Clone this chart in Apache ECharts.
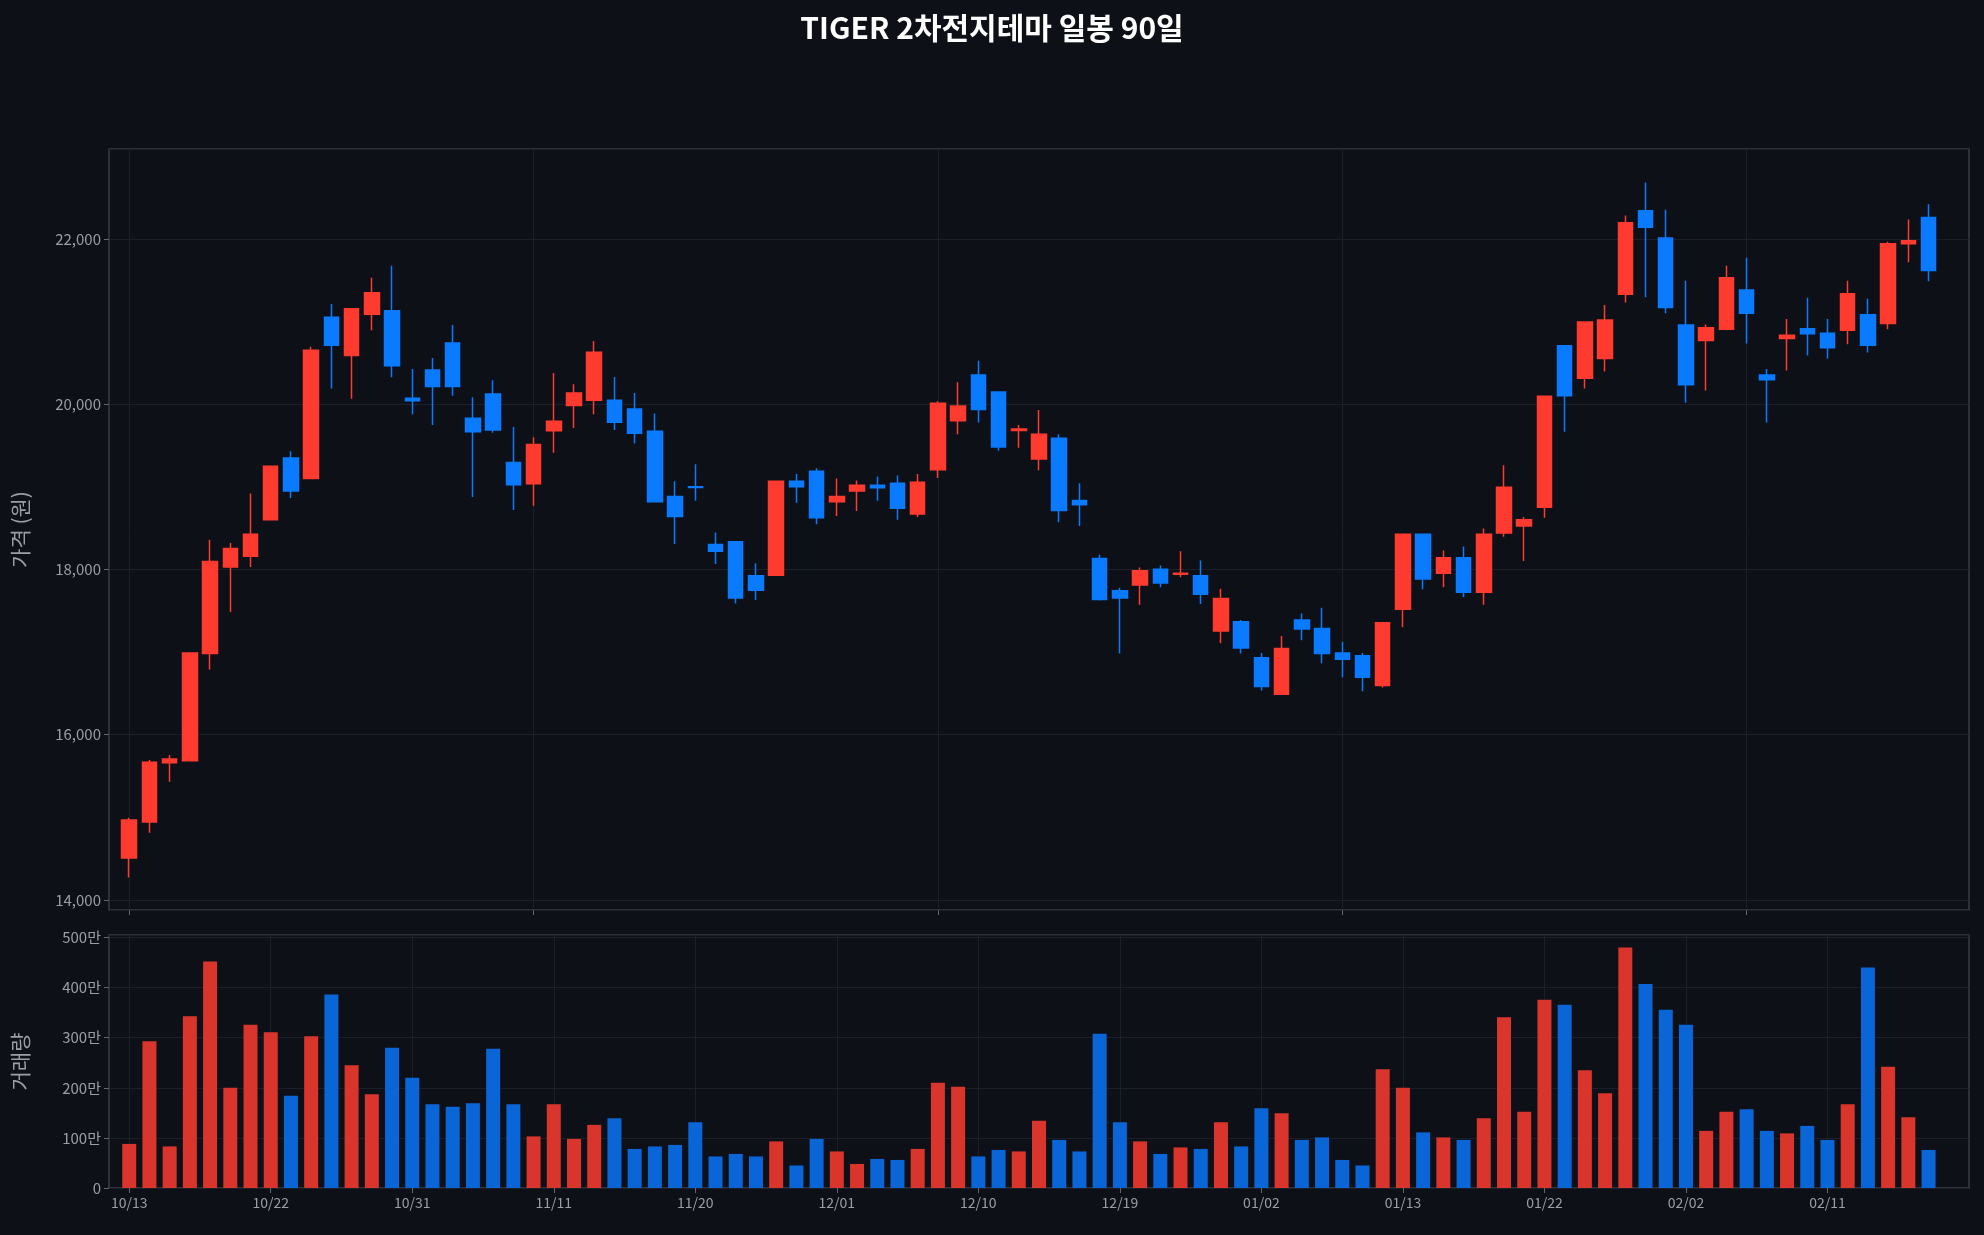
<!DOCTYPE html>
<html><head><meta charset="utf-8">
<script src="https://cdn.jsdelivr.net/npm/echarts@6/dist/echarts.min.js"></script>
<style>html,body{margin:0;padding:0;background:#0d1017}#c{width:1984px;height:1235px}</style>
</head><body><div id="c"></div>
<script>
const dates = ['10/13','10/14','10/15','10/16','10/17','10/20','10/21','10/22','10/23','10/24','10/27','10/28','10/29','10/30','10/31',
'11/03','11/04','11/05','11/06','11/07','11/10','11/11','11/12','11/13','11/14','11/17','11/18','11/19','11/20','11/21',
'11/24','11/25','11/26','11/27','11/28','12/01','12/02','12/03','12/04','12/05','12/08','12/09','12/10','12/11','12/12',
'12/15','12/16','12/17','12/18','12/19','12/22','12/23','12/24','12/26','12/29','12/30','01/02','01/05','01/06','01/07',
'01/08','01/09','01/12','01/13','01/14','01/15','01/16','01/19','01/20','01/21','01/22','01/23','01/26','01/27','01/28',
'01/29','01/30','02/02','02/03','02/04','02/05','02/06','02/09','02/10','02/11','02/12','02/13','02/19','02/20','02/23'];
const openP = [14506,14942,15659,15683,16983,18030,18159,18600,19347,19100,21053,20588,21088,21129,20071,20412,20741,19830,20124,19294,19035,19677,
19982,20047,20047,19941,19671,18882,19000,18300,18335,17924,17930,19065,19188,18818,18947,19018,19041,18671,19206,19800,20353,20147,
19680,19335,19588,18835,18130,17741,17812,18000,17940,17924,17253,17365,16930,16488,17388,17283,16989,16953,16594,17518,18424,17953,18141,
17724,18441,18524,18753,20706,20312,20553,21329,22341,22012,20959,20771,20906,21382,20353,20794,20912,20859,20894,21082,20976,21941,22259];
const closeP = [14965,15665,15706,16989,18094,18253,18424,19247,18947,20653,20712,21153,21347,20465,20041,20212,20212,19665,19688,19024,19512,19794,
20135,20629,19782,19647,18818,18641,18990,18218,17653,17747,19065,19000,18624,18882,19018,18988,18741,19053,20012,19976,19935,19482,
19700,19635,18712,18782,17635,17653,17982,17835,17953,17700,17647,17047,16583,17041,17277,16983,16912,16694,17353,18424,17882,18141,17724,
18424,18994,18600,20094,20100,20994,21018,22194,22141,21171,20235,20924,21529,21100,20294,20835,20853,20682,21335,20712,21941,21976,21618];
const lowP = [14271,14812,15430,15683,16789,17483,18030,18600,18865,19100,20188,20065,20894,20324,19876,19747,20100,18877,19653,18718,18771,19412,
19712,19876,19688,19524,18818,18306,18829,18065,17588,17630,17930,18806,18547,18647,18706,18829,18600,18635,19106,19635,19777,19435,
19471,19200,18571,18524,17624,16983,17571,17782,17906,17582,17106,16983,16535,16488,17141,16865,16694,16524,16571,17300,17759,17782,17665,
17571,18394,18100,18624,19665,20188,20394,21229,21294,21100,20018,20165,20894,20735,19777,20406,20588,20553,20724,20624,20906,21718,21488];
const highP = [14994,15694,15753,16989,18359,18318,18918,19247,19430,20694,21212,21153,21529,21676,20424,20559,20959,20082,20288,19724,19600,20376,
20241,20765,20329,20135,19888,19065,19271,18447,18335,18071,19065,19153,19224,19100,19076,19124,19135,19153,20035,20265,20524,20147,
19747,19929,19635,19041,18177,17777,18024,18047,18218,18106,17765,17388,16989,17194,17465,17535,17124,16989,17353,18424,18424,18229,18277,
18494,19259,18630,20094,20706,20994,21200,22282,22682,22353,21494,20965,21676,21771,20424,21029,21288,21029,21494,21276,21965,22235,22418];
const volMan = [88,293,83,343,452,200,326,311,184,303,386,245,187,280,220,167,162,169,278,167,103,167,98,126,139,78,83,86,131,63,
68,63,93,45,98,73,48,58,56,78,210,202,63,76,73,134,96,73,308,131,93,68,81,78,131,83,159,149,96,101,
56,45,237,200,111,101,96,139,341,152,376,366,235,189,480,407,356,326,114,152,157,114,109,124,96,167,440,242,141,76];
const priceTicks = [14000,16000,18000,20000,22000];

const UP='#ff3b30', DOWN='#0a7aff', UPV='#d9352c', DOWNV='#0a66d6';
const cats = [''].concat(dates, ['','']);
const pad = a => ['-'].concat(a, ['-','-']);
const candles = pad(dates.map((d,i)=>[openP[i],closeP[i],lowP[i],highP[i]]));
const vols = pad(volMan.map((v,i)=>({value:v,itemStyle:{color: closeP[i]>=openP[i]?UPV:DOWNV}})));
const font = 'Noto Sans CJK KR';
const lab = '#9a9ea6', grid='#1b1f27', frame='#3a3d44';
const chart = echarts.init(document.getElementById('c'));
chart.setOption({
  backgroundColor:'#0d1017', animation:false,
  textStyle:{fontFamily:font},
  title:{text:'TIGER 2차전지테마 일봉 90일',left:'center',top:8,textStyle:{color:'#ffffff',fontSize:30,fontWeight:'bold',fontFamily:font}},
  grid:[{left:109,right:15,top:149,height:761,show:true,borderColor:frame,borderWidth:1.5,backgroundColor:'transparent'},
        {left:109,right:15,top:935,height:253,show:true,borderColor:frame,borderWidth:1.5,backgroundColor:'transparent'}],
  xAxis:[
    {type:'category',gridIndex:0,data:cats,boundaryGap:false,
     axisLine:{show:false},axisLabel:{show:false},
     axisTick:{show:true,interval:(i)=>i>=1&&i<=90&&(i-1)%20===0,lineStyle:{color:'#666'},length:5},
     splitLine:{show:true,interval:(i)=>i>=1&&i<=90&&(i-1)%20===0,lineStyle:{color:grid}}},
    {type:'category',gridIndex:1,data:cats,boundaryGap:false,
     axisLine:{show:false},
     axisTick:{show:true,interval:(i)=>i>=1&&i<=90&&(i-1)%7===0,lineStyle:{color:'#666'},length:5},
     axisLabel:{interval:(i)=>i>=1&&i<=90&&(i-1)%7===0,color:lab,fontSize:14,margin:8},
     splitLine:{show:true,interval:(i)=>i>=1&&i<=90&&(i-1)%7===0,lineStyle:{color:grid}}}
  ],
  yAxis:[
    {type:'value',gridIndex:0,min:13877,max:23088,splitNumber:5,
     name:'가격 (원)',nameLocation:'middle',nameGap:78,nameTextStyle:{color:lab,fontSize:21},
     axisLine:{show:false},axisTick:{show:true,lineStyle:{color:'#666'},length:5},
     axisLabel:{color:lab,fontSize:15,showMinLabel:false,showMaxLabel:false,
       formatter:v=>priceTicks.includes(v)?v.toLocaleString('en-US'):''},
     splitLine:{lineStyle:{color:grid}}},
    {type:'value',gridIndex:1,min:0,max:505,interval:100,
     name:'거래량',nameLocation:'middle',nameGap:78,nameTextStyle:{color:lab,fontSize:21},
     axisLine:{show:false},axisTick:{show:true,lineStyle:{color:'#666'},length:5},
     axisLabel:{color:lab,fontSize:15,showMaxLabel:false,formatter:v=>v===0?'0':v+'만'},
     splitLine:{lineStyle:{color:grid}}}
  ],
  series:[
    {type:'candlestick',xAxisIndex:0,yAxisIndex:0,data:candles,barWidth:15,
     itemStyle:{color:UP,color0:DOWN,borderColor:UP,borderColor0:DOWN,borderWidth:1.5}},
    {type:'bar',xAxisIndex:1,yAxisIndex:1,data:vols,barWidth:14}
  ]
});
</script></body></html>
